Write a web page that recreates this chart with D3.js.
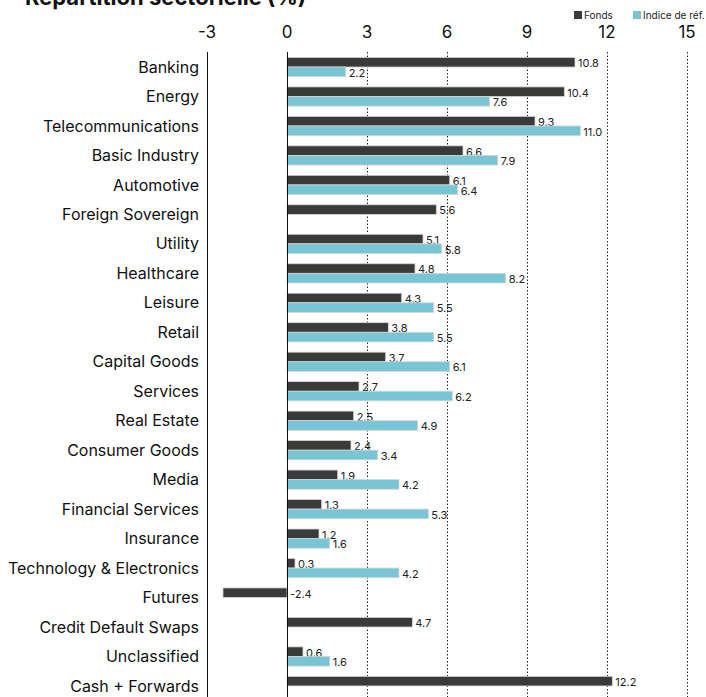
<!DOCTYPE html>
<html>
<head>
<meta charset="utf-8">
<script src="https://cdn.jsdelivr.net/npm/d3@7"></script>
<style>
  body { margin: 0; background: #fff; }
  svg { display: block; font-family: Inter, "Liberation Sans", Arial, sans-serif; }
</style>
</head>
<body>
<div id="chart"></div>
<script>
var categories = ["Banking", "Energy", "Telecommunications", "Basic Industry", "Automotive",
  "Foreign Sovereign", "Utility", "Healthcare", "Leisure", "Retail", "Capital Goods",
  "Services", "Real Estate", "Consumer Goods", "Media", "Financial Services", "Insurance",
  "Technology & Electronics", "Futures", "Credit Default Swaps", "Unclassified", "Cash + Forwards"];
var fonds = [10.8, 10.4, 9.3, 6.6, 6.1, 5.6, 5.1, 4.8, 4.3, 3.8, 3.7, 2.7, 2.5, 2.4, 1.9, 1.3, 1.2, 0.3, -2.4, 4.7, 0.6, 12.2];
var indice = [2.2, 7.6, 11.0, 7.9, 6.4, null, 5.8, 8.2, 5.5, 5.5, 6.1, 6.2, 4.9, 3.4, 4.2, 5.3, 1.6, 4.2, null, null, 1.6, null];
var ticks = [-3, 0, 3, 6, 9, 12, 15];
var seriesNames = ["Fonds", "Indice de réf."];
var colors = ["#3a3b39", "#78c5d5"];

var width = 706, height = 697;
var svg = d3.select("#chart").append("svg")
  .attr("width", width)
  .attr("height", height);

var x = d3.scaleLinear().domain([-3, 15]).range([207, 687]);
var y = d3.scaleBand().domain(categories).range([52.3, 700.7]);
var barH = 9.6;

// title (cut at top like the original)
svg.append("text")
  .attr("x", 25).attr("y", 5)
  .attr("font-size", 22).attr("font-weight", "bold")
  .attr("fill", "#111")
  .text("Répartition sectorielle (%)");

// grid
svg.append("g").selectAll("line")
  .data(ticks.filter(function(t){ return t > 0; }))
  .enter().append("line")
  .attr("x1", function(d){ return x(d) + 0.5; })
  .attr("x2", function(d){ return x(d) + 0.5; })
  .attr("y1", 52).attr("y2", height)
  .attr("stroke", "#222").attr("stroke-width", 1)
  .attr("stroke-dasharray", "1.5,2");

// top tick labels
svg.append("g").selectAll("text")
  .data(ticks).enter().append("text")
  .attr("x", function(d){ return x(d); })
  .attr("y", 38)
  .attr("text-anchor", "middle")
  .attr("font-size", 17)
  .attr("fill", "#111")
  .text(function(d){ return d; });

// category labels
svg.append("g").selectAll("text")
  .data(categories).enter().append("text")
  .attr("x", 199)
  .attr("y", function(d){ return y(d) + y.bandwidth() / 2; })
  .attr("dy", "0.35em")
  .attr("text-anchor", "end")
  .attr("font-size", 16)
  .attr("fill", "#111")
  .text(function(d){ return d; });

// bars
function drawSeries(values, idx) {
  var g = svg.append("g");
  var rows = categories.map(function(c, i){ return { cat: c, v: values[i] }; })
    .filter(function(d){ return d.v !== null; });
  g.selectAll("rect").data(rows).enter().append("rect")
    .attr("x", function(d){ return x(Math.min(0, d.v)); })
    .attr("y", function(d){ return y(d.cat) + y.bandwidth() / 2 - barH + idx * barH; })
    .attr("width", function(d){ return Math.abs(x(d.v) - x(0)); })
    .attr("height", barH)
    .attr("fill", colors[idx])
    .attr("stroke", "#d4d4d4").attr("stroke-width", 0.8);
  g.selectAll("text").data(rows).enter().append("text")
    .attr("x", function(d){ return d.v < 0 ? x(0) + 3 : x(d.v) + 3; })
    .attr("y", function(d){ return y(d.cat) + y.bandwidth() / 2 - barH + idx * barH + barH / 2 + 1; })
    .attr("dy", "0.35em")
    .attr("font-size", 11)
    .attr("fill", "#222")
    .text(function(d){ return d.v.toFixed(1); });
}
drawSeries(fonds, 0);
drawSeries(indice, 1);

// axis lines
svg.append("line")
  .attr("x1", x(0) + 0.5).attr("x2", x(0) + 0.5)
  .attr("y1", 52).attr("y2", height)
  .attr("stroke", "#111").attr("stroke-width", 1);
svg.append("line")
  .attr("x1", x(-3) + 0.5).attr("x2", x(-3) + 0.5)
  .attr("y1", 52).attr("y2", height)
  .attr("stroke", "#111").attr("stroke-width", 1);

// legend
var legX = [574, 633];
var leg = svg.append("g").selectAll("g")
  .data(seriesNames).enter().append("g")
  .attr("transform", function(d, i){ return "translate(" + legX[i] + ",11)"; });
leg.append("rect").attr("width", 8).attr("height", 8)
  .attr("fill", function(d, i){ return colors[i]; });
leg.append("text").attr("x", 10).attr("y", 4).attr("dy", "0.35em")
  .attr("font-size", 10).attr("fill", "#222")
  .text(function(d){ return d; });
</script>
</body>
</html>
